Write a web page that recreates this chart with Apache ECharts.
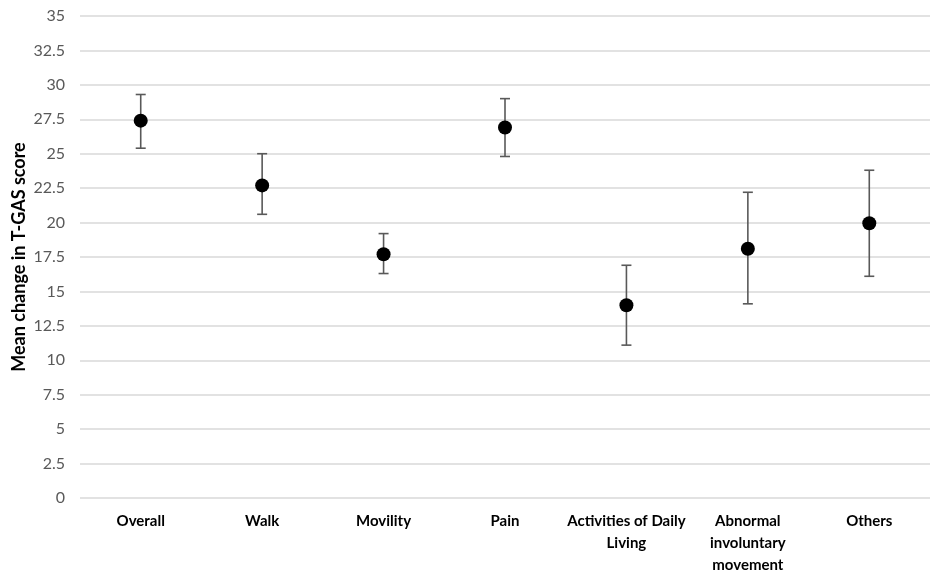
<!DOCTYPE html>
<html>
<head>
<meta charset="utf-8">
<script src="https://cdn.jsdelivr.net/npm/echarts@6/dist/echarts.min.js"></script>
<style>
  html, body { margin: 0; padding: 0; background: #fff; }
  #chart { width: 940px; height: 585px; }
</style>
</head>
<body>
<div id="chart"></div>
<script>
// data
var categories = ['Overall', 'Walk', 'Movility', 'Pain', 'Activities of Daily\nLiving', 'Abnormal\ninvoluntary\nmovement', 'Others'];
var means = [27.4, 22.7, 17.7, 26.9, 14.0, 18.1, 19.95];
var upper = [29.3, 25.0, 19.2, 29.0, 16.9, 22.2, 23.8];
var lower = [25.4, 20.6, 16.3, 24.8, 11.1, 14.1, 16.1];

var errData = [];
for (var i = 0; i < categories.length; i++) {
    errData.push([i, lower[i], upper[i]]);
}

var chart = echarts.init(document.getElementById('chart'));

var option = {
    animation: false,
    grid: { left: 80, right: 10, top: 16, bottom: 87, outerBoundsMode: 'none', containLabel: false },
    xAxis: {
        type: 'category',
        data: categories,
        axisLine: { show: false },
        axisTick: { show: false },
        axisLabel: {
            interval: 0,
            margin: 12,
            color: '#000',
            fontFamily: 'Lato',
            fontWeight: 'bold',
            fontSize: 15,
            lineHeight: 22
        }
    },
    yAxis: {
        type: 'value',
        min: 0,
        max: 35,
        interval: 2.5,
        name: 'Mean change in T-GAS score',
        nameLocation: 'middle',
        nameGap: 52,
        nameMoveOverlap: false,
        nameTextStyle: { color: '#000', fontFamily: 'Lato', fontWeight: 'bold', fontSize: 18 },
        axisLine: { show: false },
        axisTick: { show: false },
        axisLabel: { color: '#595959', fontFamily: 'Lato', fontSize: 16, margin: 15 },
        splitLine: { lineStyle: { color: '#d9d9d9', width: 1.5 } }
    },
    series: [
        {
            type: 'custom',
            data: errData,
            renderItem: function (params, api) {
                var x = api.value(0);
                var top = api.coord([x, api.value(2)]);
                var bot = api.coord([x, api.value(1)]);
                var w = 5;
                var st = { stroke: '#595959', lineWidth: 1.6 };
                return {
                    type: 'group',
                    children: [
                        { type: 'line', shape: { x1: top[0], y1: top[1], x2: bot[0], y2: bot[1] }, style: st },
                        { type: 'line', shape: { x1: top[0] - w, y1: top[1], x2: top[0] + w, y2: top[1] }, style: st },
                        { type: 'line', shape: { x1: bot[0] - w, y1: bot[1], x2: bot[0] + w, y2: bot[1] }, style: st }
                    ]
                };
            },
            z: 2
        },
        {
            type: 'scatter',
            data: means,
            symbol: 'circle',
            symbolSize: 14,
            itemStyle: { color: '#000', opacity: 1 },
            z: 3
        }
    ]
};
chart.setOption(option);
</script>
</body>
</html>
